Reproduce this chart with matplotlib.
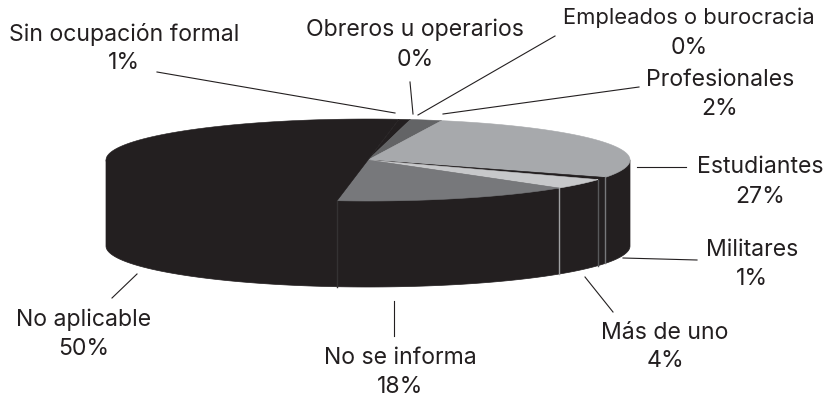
import numpy as np
import matplotlib
matplotlib.use("Agg")
import matplotlib.pyplot as plt
from matplotlib.patches import Polygon

plt.rcParams['font.family'] = ['Inter', 'DejaVu Sans']

# printed labels
labels = ['Sin ocupación formal', 'Obreros u operarios', 'Empleados o burocracia', 'Profesionales',
          'Estudiantes', 'Militares', 'Más de uno', 'No se informa', 'No aplicable']
percents = ['1%', '0%', '0%', '2%', '27%', '1%', '4%', '18%', '50%']
# slice sizes as they are drawn, clockwise from the top (does not match the printed labels exactly)
drawn_share = [0.7, 0, 0, 1.95, 27.45, 0.95, 4.05, 14.9, 50.0]
slice_colors = ['#231f20', '#231f20', '#231f20', '#636466', '#a7a9ac', '#231f20', '#c7c8ca', '#77787b', '#231f20']
wall_lines = ['#231f20', '#231f20', '#231f20', '#231f20', '#77787b', '#58595b', '#a0a1a3', '#343233', '#231f20']

start_angle = 83.2
cx, cy, rx, ry, depth = 368, 161, 262, 41, 86
dark = '#231f20'

# label centres, pixels
label_x = [124, 415, 689, 720, 760, 752, 665, 400, 84]
label_y = [35, 30, 18, 80, 167, 250, 333, 358, 320]
pct_y = [63, 60, 48, 109, 197, 279, 361, 387, 349]
label_size = [16.6, 16.6, 15.8, 16.6, 16.6, 16.6, 16.6, 16.6, 16.6]
leaders = [[(157, 73), (395, 114)], [(410, 83), (413, 115)], [(555, 37), (418, 116)],
           [(639, 88), (443, 115)], [(637, 168), (686, 168)], [(623, 259), (697, 261)],
           [(585, 278), (613, 313)], [(394, 302), (394, 337)], [(137, 275), (112, 299)]]


def arc(t0, t1, dy=0):
    t = np.radians(np.linspace(t0, t1, 200))
    return np.column_stack([cx + rx * np.cos(t), cy + dy - ry * np.sin(t)])


fig = plt.figure(figsize=(8.27, 4.02), dpi=100)
ax = fig.add_axes([0, 0, 1, 1])
ax.set_xlim(0, 827)
ax.set_ylim(402, 0)
ax.axis('off')

# side wall, closed along the chord so no seam shows under the black slice
wall = np.vstack([[[cx - rx, cy], [cx + rx, cy]], arc(360, 180, depth)])
ax.add_patch(Polygon(wall, closed=True, fc=dark, ec=dark, lw=0.5, zorder=1))

# top slices
angle = start_angle
bounds = []
for share, col in zip(drawn_share, slice_colors):
    end = angle - share * 3.6
    if share > 0:
        pts = np.vstack([[cx, cy], arc(angle, end)])
        ax.add_patch(Polygon(pts, closed=True, fc=col, ec=col, lw=0.4, zorder=2))
    angle = end
    bounds.append(end)

# slice edges running down the wall
for b, col in zip(bounds, wall_lines):
    t = np.radians(b)
    if np.sin(t) < 0:
        x = cx + rx * np.cos(t)
        y = cy - ry * np.sin(t)
        ax.plot([x, x], [y, y + depth], color=col, lw=1.0, zorder=3)

for (p0, p1) in leaders:
    ax.plot([p0[0], p1[0]], [p0[1], p1[1]], color=dark, lw=0.8, zorder=3)

for name, pct, x, y, y2, fs in zip(labels, percents, label_x, label_y, pct_y, label_size):
    ax.text(x, y, name, ha='center', va='center', fontsize=fs, color=dark)
    ax.text(x, y2, pct, ha='center', va='center', fontsize=16.6, color=dark)

fig.savefig('out.png', dpi=100)
